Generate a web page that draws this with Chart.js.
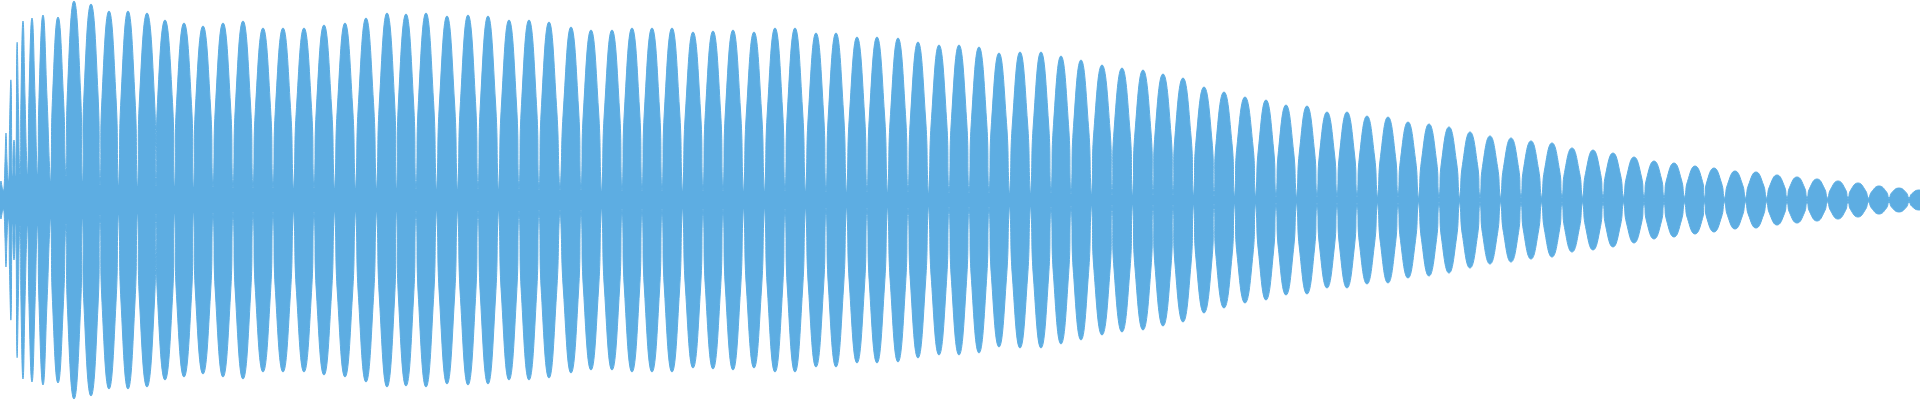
<!DOCTYPE html>
<html>
<head>
<meta charset="utf-8">
<script src="https://cdn.jsdelivr.net/npm/chart.js@4/dist/chart.umd.min.js"></script>
<style>
html,body{margin:0;padding:0;background:#ffffff;overflow:hidden}
#wrap{width:1920px;height:400px}
</style>
</head>
<body>
<div id="wrap"><canvas id="c" width="1920" height="400"></canvas></div>
<script>
// Horizontal positions of each lobe crest (sample index, same units as the x axis)
const peakX = [1, 6, 11, 14, 17, 23, 32, 43, 58, 74,
  91, 109, 128, 147, 165, 184,
  203, 223, 243, 263, 283, 304, 324, 345, 366, 387,
  406, 426, 447, 468, 488, 509, 529, 549, 571,
  591, 612, 632, 652, 672, 693, 713, 733, 754,
  775, 795, 816, 836, 857, 877, 898,
  918, 939, 959, 979, 999, 1020, 1041, 1061, 1081,
  1102, 1122, 1143, 1163, 1183, 1204, 1224, 1245,
  1266, 1286, 1307, 1327, 1347, 1367, 1388,
  1408, 1429, 1449, 1470, 1490, 1511, 1531,
  1552, 1572, 1593, 1613, 1634, 1654, 1674, 1695,
  1714, 1735, 1756, 1777, 1797, 1817, 1838, 1858, 1879, 1899, 1919];

// Crest amplitude of each lobe (symmetric around 0)
const peakAmp = [19, 67, 119, 60, 156, 179, 182, 185, 183, 199,
  196, 189, 189, 187, 180, 177,
  174, 177, 179, 172, 172, 172, 175, 177, 182, 187,
  186, 187, 184, 185, 184, 180, 180, 178, 173,
  170, 170, 172, 172, 172, 168, 169, 170, 168,
  172, 172, 167, 167, 163, 163, 162,
  158, 155, 155, 153, 147, 148, 148, 144, 140,
  135, 132, 130, 126, 122, 113, 108, 103,
  100, 95, 94, 88, 88, 84, 83,
  78, 76, 73, 68, 64, 62, 59,
  57, 52, 50, 47, 43, 39, 37, 34,
  32, 29, 28, 25, 23, 21, 19, 17, 14, 12, 10];

// Width of each lobe measured at half of its height (x units)
const lobeWidth = [2, 2, 3, 2, 3, 4, 6, 8, 11, 13,
  14, 14, 14, 15, 15, 15,
  15, 15, 15, 15, 15, 15, 15, 15, 15, 15,
  15, 15, 15, 15, 15, 15, 15, 15, 15,
  15, 15, 15, 15, 15, 15, 15, 15, 15,
  15, 15, 15, 15, 15, 15, 15,
  15, 15, 15, 15, 15, 15, 15, 15, 15,
  16, 16, 16, 16, 16, 16, 16, 16,
  15, 15, 15, 15, 15, 15, 15,
  15, 15, 15, 15, 15, 15, 15,
  15, 15, 15, 15, 15, 15, 15, 15,
  15, 15, 15, 15, 15, 15, 15, 15, 15, 15, 15];

// Amplitude at the troughs between lobes (first = start, last = end)
const nodeAmp = [8, 10, 20, 25, 25, 27, 27, 27, 20, 25, 20,
  16, 16, 15, 15, 15, 14,
  14, 13, 13, 13, 13, 13, 13, 13, 13, 13,
  12, 12, 12, 12, 12, 12, 11, 11, 11,
  10, 10, 10, 10, 10, 10, 10, 10, 10,
  10, 10, 9, 9, 9, 9, 9,
  8, 8, 8, 8, 8, 8, 8, 7, 7,
  6, 6, 6, 6, 6, 5, 5, 5,
  4, 4, 4, 4, 4, 4, 4,
  3, 3, 3, 3, 3, 3, 3,
  3, 3, 3, 3, 3, 3, 3, 3,
  2, 2, 2, 2, 2, 2, 2, 2, 2, 2,
  2];

const X_MIN = 0, X_MAX = 1920, Y_MIN = -200, Y_MAX = 200;
const FILL = '#5DADE2';

// Build the outline (node, left half-height, crest, right half-height, node ...)
function envelope(sign) {
  const pts = [];
  const eps = 0.4;
  const n = peakX.length;
  for (let i = 0; i <= n; i++) {
    const a = sign * nodeAmp[i];
    if (i === 0) {
      pts.push({x: X_MIN, y: a});
    } else if (i === n) {
      pts.push({x: X_MAX + 10, y: a});
    } else {
      const nx = (peakX[i - 1] + peakX[i]) / 2;
      pts.push({x: nx - eps, y: a});
      pts.push({x: nx + eps, y: a});
    }
    if (i < n) {
      const half = lobeWidth[i] / 2;
      const midA = sign * (peakAmp[i] + Math.min(nodeAmp[i], nodeAmp[i + 1])) / 2;
      const left = i === 0 ? null : (peakX[i - 1] + peakX[i]) / 2 + eps;
      const right = (i + 1 < n) ? (peakX[i] + peakX[i + 1]) / 2 - eps : null;
      if (left === null || peakX[i] - half > left) pts.push({x: peakX[i] - half, y: midA});
      pts.push({x: peakX[i], y: sign * peakAmp[i]});
      if (right === null || peakX[i] + half < right) pts.push({x: peakX[i] + half, y: midA});
    }
  }
  return pts;
}

const ctx = document.getElementById('c').getContext('2d');
new Chart(ctx, {
  type: 'line',
  data: {
    datasets: [
      {data: envelope(1), fill: 'origin', backgroundColor: FILL, borderColor: FILL},
      {data: envelope(-1), fill: 'origin', backgroundColor: FILL, borderColor: FILL}
    ]
  },
  options: {
    animation: false,
    responsive: false,
    devicePixelRatio: 1,
    layout: {padding: 0},
    plugins: {legend: {display: false}, tooltip: {enabled: false}},
    elements: {
      point: {radius: 0, hoverRadius: 0},
      line: {tension: 0.5, borderWidth: 1}
    },
    scales: {
      x: {type: 'linear', min: X_MIN, max: X_MAX, display: false},
      y: {type: 'linear', min: Y_MIN, max: Y_MAX, display: false}
    }
  }
});
</script>
</body>
</html>
